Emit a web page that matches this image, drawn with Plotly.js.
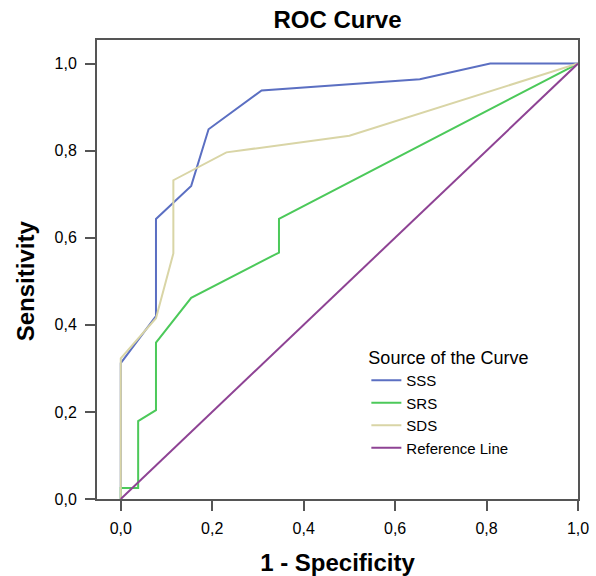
<!DOCTYPE html>
<html>
<head>
<meta charset="utf-8">
<script src="https://cdn.plot.ly/plotly-3.0.1.min.js"></script>
<style>html,body{margin:0;padding:0;background:#fff;}#chart{width:596px;height:576px;}</style>
</head>
<body>
<div id="chart"></div>
<script>
// Data (1 - Specificity, Sensitivity)
var sssX = [0, 0, 0.077, 0.077, 0.154, 0.192, 0.308, 0.654, 0.808, 1];
var sssY = [0, 0.312, 0.420, 0.643, 0.719, 0.849, 0.938, 0.964, 1, 1];

var srsX = [0, 0, 0.038, 0.038, 0.077, 0.077, 0.154, 0.346, 0.346, 1];
var srsY = [0, 0.025, 0.025, 0.179, 0.204, 0.359, 0.462, 0.566, 0.643, 1];

var sdsX = [0, 0, 0.077, 0.115, 0.115, 0.231, 0.5, 1];
var sdsY = [0, 0.323, 0.415, 0.564, 0.732, 0.796, 0.834, 1];

var refX = [0, 1];
var refY = [0, 1];

var tickVals = [0, 0.2, 0.4, 0.6, 0.8, 1.0];
var tickText = ["0,0", "0,2", "0,4", "0,6", "0,8", "1,0"];

var seriesNames = ["SSS", "SRS", "SDS", "Reference Line"];
var seriesColors = ["#5b6fc2", "#4cc95a", "#d9d5a6", "#8e4394"];

var font = "Liberation Sans, Arial, sans-serif";
var xs = [sssX, srsX, sdsX, refX];
var ys = [sssY, srsY, sdsY, refY];
var traces = xs.map(function (x, i) {
  return {
    x: x, y: ys[i], type: "scatter", mode: "lines", name: seriesNames[i],
    line: {color: seriesColors[i], width: 2}
  };
});

var axisCommon = {
  showgrid: false, zeroline: false, showline: true, linecolor: "#555", linewidth: 2,
  mirror: true, ticks: "outside", ticklen: 10, tickwidth: 2, tickcolor: "#555",
  tickvals: tickVals, ticktext: tickText,
  tickfont: {family: font, size: 16, color: "#000"}
};

var layout = {
  width: 596, height: 576,
  margin: {l: 97, r: 18, t: 40, b: 77},
  paper_bgcolor: "#fff", plot_bgcolor: "#fff",
  font: {family: font, color: "#000"},
  title: {text: "<b>ROC Curve</b>", font: {family: font, size: 24, color: "#000"},
          x: 0.5, xref: "paper", y: 1 - 20 / 576, yref: "container", yanchor: "middle"},
  xaxis: Object.assign({}, axisCommon, {
    range: [-0.052, 1.0],
    ticklabelstandoff: 4,
    title: {text: "<b>1 - Specificity</b>", font: {family: font, size: 24, color: "#000"}, standoff: 20}
  }),
  yaxis: Object.assign({}, axisCommon, {
    range: [0, 1.054],
    ticklabelstandoff: 5
  }),
  annotations: [{
    text: "<b>Sensitivity</b>", textangle: -90, showarrow: false,
    xref: "paper", x: 0, xanchor: "center", xshift: -72,
    yref: "y", y: 0.5, yanchor: "middle",
    font: {family: font, size: 24, color: "#000"}
  }],
  showlegend: true,
  legend: {
    x: 0.56, y: 0.345, xanchor: "left", yanchor: "top",
    bgcolor: "rgba(0,0,0,0)", borderwidth: 0,
    font: {family: font, size: 15, color: "#000"},
    title: {text: "Source of the Curve", font: {family: font, size: 18, color: "#000"}}
  }
};

Plotly.newPlot("chart", traces, layout, {displayModeBar: false, staticPlot: true});
</script>
</body>
</html>
